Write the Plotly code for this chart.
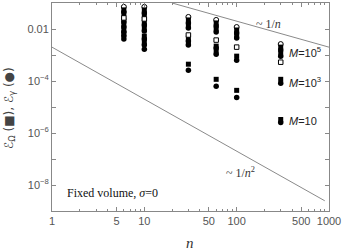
import plotly.graph_objects as go

# ---- data ----
# filled squares: eps_Omega
sq_n   = [6, 6, 6, 6, 6, 6,
          10, 10, 10, 10, 10, 10,
          30, 30, 30, 30, 30,
          60, 60, 60, 60, 60,
          100, 100, 100, 100,
          300, 300, 300, 300]
sq_eps = [0.0543, 0.0380, 0.0223, 0.0143, 0.00915, 0.00641,
          0.0543, 0.0318, 0.0187, 0.0109, 0.00536, 0.00314,
          0.0223, 0.0131, 0.00449, 0.00287, 0.000443,
          0.0171, 0.0100, 0.00220, 0.00141, 0.000116,
          0.00915, 0.00536, 0.000903, 4.37e-5,
          0.00201, 0.00118, 0.000116, 3.30e-6]
# filled circles: eps_gamma
ci_n   = [6, 6, 6, 6, 6, 6,
          10, 10, 10, 10, 10, 10,
          30, 30, 30, 30, 30,
          60, 60, 60, 60, 60,
          100, 100, 100, 100,
          300, 300, 300, 300]
ci_eps = [0.0455, 0.0187, 0.0119, 0.00766, 0.00536, 0.00410,
          0.0416, 0.0143, 0.00837, 0.00410, 0.00240, 0.00168,
          0.0171, 0.0109, 0.00343, 0.00240, 0.000260,
          0.0131, 0.00766, 0.00184, 0.00108, 6.24e-5,
          0.00700, 0.00449, 0.000632, 2.34e-5,
          0.00154, 0.000903, 8.15e-5, 2.52e-6]
# open markers
osq_n   = [6, 10, 30, 60, 100, 300]
osq_eps = [0.0267, 0.0244, 0.00586, 0.00375, 0.00201, 0.000529]
oci_n   = [6, 10, 30, 60, 100, 300]
oci_eps = [0.0710, 0.0710, 0.0291, 0.0223, 0.0119, 0.00263]

# guide lines
g1_n = [20, 1000]
g1_eps = [0.1, 0.002]
g2_n = [1, 900]
g2_eps = [0.002, 2.47e-9]

x_tickvals = [1, 5, 10, 50, 100, 500, 1000]
x_ticktext = ["1", "5", "10", "50", "100", "500", "1000"]
x_minor = [2, 3, 4, 6, 7, 8, 9, 20, 30, 40, 60, 70, 80, 90, 200, 300, 400, 600, 700, 800, 900]
y_tickvals = [1e-2, 1e-3, 1e-4, 1e-5, 1e-6, 1e-7, 1e-8, 1e-9]
y_ticktext = ["0.01", "", "10<sup>−4</sup>", "", "10<sup>−6</sup>", "", "10<sup>−8</sup>", ""]

M_labels = ["<i>M</i>=10<sup>5</sup>", "<i>M</i>=10<sup>3</sup>", "<i>M</i>=10"]
M_label_y = [0.764, 0.620, 0.433]

fig = go.Figure()
line_col = "#8a8a8a"
fig.add_trace(go.Scatter(x=g1_n, y=g1_eps, mode="lines", line=dict(color=line_col, width=1), hoverinfo="skip"))
fig.add_trace(go.Scatter(x=g2_n, y=g2_eps, mode="lines", line=dict(color=line_col, width=1), hoverinfo="skip"))
fig.add_trace(go.Scatter(x=oci_n, y=oci_eps, mode="markers",
                         marker=dict(symbol="circle", size=5, color="white", line=dict(color="black", width=1))))
fig.add_trace(go.Scatter(x=sq_n, y=sq_eps, mode="markers",
                         marker=dict(symbol="square", size=5, color="black", line=dict(width=0))))
fig.add_trace(go.Scatter(x=ci_n, y=ci_eps, mode="markers",
                         marker=dict(symbol="circle", size=5.5, color="black", line=dict(width=0))))
fig.add_trace(go.Scatter(x=osq_n, y=osq_eps, mode="markers",
                         marker=dict(symbol="square", size=4.5, color="white", line=dict(color="black", width=1))))

tick_font = dict(family="Liberation Sans, Arial, sans-serif", size=11, color="#555")
axis_common = dict(showline=True, linecolor="#888", linewidth=1, mirror="ticks",
                   ticks="inside", ticklen=4, tickcolor="#888", showgrid=False, zeroline=False,
                   tickfont=tick_font)
fig.update_xaxes(type="log", range=[0, 3], tickmode="array", tickvals=x_tickvals, ticktext=x_ticktext,
                 minor=dict(tickmode="array", tickvals=x_minor, ticks="inside", ticklen=2, tickcolor="#888"),
                 **axis_common)
fig.update_yaxes(type="log", range=[-9, -1], tickmode="array", tickvals=y_tickvals, ticktext=y_ticktext,
                 **axis_common)

ann = []
serif = "Liberation Serif, Times New Roman, serif"
base = dict(xref="paper", yref="paper", showarrow=False, xanchor="center", yanchor="middle")
ann.append(dict(base, x=0.78, y=0.899, text="~ 1/<i>n</i>",
                font=dict(family=serif, size=12, color="#333")))
ann.append(dict(base, x=0.682, y=0.1875, text="~ 1/<i>n</i><sup>2</sup>",
                font=dict(family=serif, size=12, color="#333")))
ann.append(dict(base, x=0.047, y=0.0865, xanchor="left", text="Fixed volume, <i>σ</i>=0",
                font=dict(family=serif, size=12, color="#111")))
for t, yy in zip(M_labels, M_label_y):
    ann.append(dict(base, x=0.848, y=yy, xanchor="left", text=t,
                    font=dict(family="Liberation Sans, Arial, sans-serif", size=11, color="#222")))
ann.append(dict(base, x=0.498, y=-0.154, text="<i>n</i>",
                font=dict(family=serif, size=15, color="#333")))
ann.append(dict(base, x=-0.152, y=0.495, textangle=-90,
                text="ℰ<sub>Ω</sub> (■), ℰ<sub>γ</sub> (●)",
                font=dict(family="DejaVu Sans, sans-serif", size=12, color="#444")))

fig.update_layout(width=344, height=252, margin=dict(l=52, r=15, t=3, b=41),
                  plot_bgcolor="white", paper_bgcolor="white", showlegend=False,
                  annotations=ann)
fig.write_html("out.html", config={"displayModeBar": False},
               post_script="document.body.style.margin='0';")
